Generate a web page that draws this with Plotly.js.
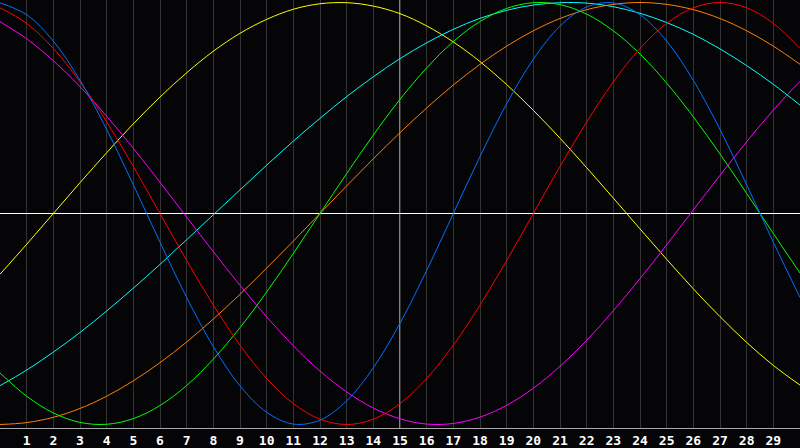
<!DOCTYPE html>
<html>
<head>
<meta charset="utf-8">
<script src="https://cdn.plot.ly/plotly-3.0.1.min.js"></script>
<style>
  html, body { margin: 0; padding: 0; background: #050508; }
  #gd { width: 800px; height: 448px; }
</style>
</head>
<body>
<div id="gd"></div>
<script>
// days shown across the chart (0 and 30 are the edges)
var days = [0, 1, 2, 3, 4, 5, 6, 7, 8, 9, 10, 11, 12, 13, 14, 15,
            16, 17, 18, 19, 20, 21, 22, 23, 24, 25, 26, 27, 28, 29, 30];
var dayTicks = [1, 2, 3, 4, 5, 6, 7, 8, 9, 10, 11, 12, 13, 14, 15,
                16, 17, 18, 19, 20, 21, 22, 23, 24, 25, 26, 27, 28, 29];
var dayLabels = dayTicks.map(String);

// curve values, -1 .. 1
var blue = [0.998, 0.942, 0.817, 0.631, 0.398, 0.136, -0.136, -0.398, -0.631, -0.817, -0.942,
            -0.998, -0.979, -0.888, -0.731, -0.520, -0.270, 0.000, 0.270, 0.520, 0.731,
            0.888, 0.979, 0.998, 0.942, 0.817, 0.631, 0.398, 0.136, -0.136, -0.398];
var red = [0.975, 0.901, 0.782, 0.624, 0.434, 0.223, 0.000, -0.223, -0.434, -0.624, -0.782,
           -0.901, -0.975, -1.000, -0.975, -0.901, -0.782, -0.624, -0.434, -0.223, 0.000,
           0.223, 0.434, 0.624, 0.782, 0.901, 0.975, 1.000, 0.975, 0.901, 0.782];
var green = [-0.756, -0.866, -0.945, -0.990, -0.999, -0.972, -0.910, -0.815, -0.690, -0.541, -0.372,
             -0.189, 0.000, 0.189, 0.372, 0.541, 0.690, 0.815, 0.910, 0.972, 0.999,
             0.990, 0.945, 0.866, 0.756, 0.618, 0.458, 0.282, 0.095, -0.095, -0.282];
var magenta = [0.909, 0.828, 0.724, 0.601, 0.461, 0.309, 0.148, -0.017, -0.181, -0.340, -0.490,
               -0.627, -0.747, -0.846, -0.922, -0.973, -0.998, -0.995, -0.965, -0.909, -0.828,
               -0.724, -0.601, -0.461, -0.309, -0.148, 0.017, 0.181, 0.340, 0.490, 0.627];
var yellow = [-0.288, -0.146, 0.000, 0.146, 0.288, 0.425, 0.552, 0.667, 0.769, 0.854, 0.920,
              0.968, 0.994, 0.999, 0.983, 0.947, 0.889, 0.813, 0.720, 0.611, 0.489,
              0.357, 0.217, 0.073, -0.073, -0.217, -0.357, -0.489, -0.611, -0.720, -0.813];
var orange = [-1.000, -0.991, -0.966, -0.924, -0.866, -0.793, -0.707, -0.609, -0.500, -0.383, -0.259,
              -0.131, 0.000, 0.131, 0.259, 0.383, 0.500, 0.609, 0.707, 0.793, 0.866,
              0.924, 0.966, 0.991, 1.000, 0.991, 0.966, 0.924, 0.866, 0.793, 0.707];
var cyan = [-0.816, -0.742, -0.657, -0.564, -0.462, -0.354, -0.241, -0.124, -0.006, 0.112, 0.229,
            0.343, 0.451, 0.554, 0.648, 0.734, 0.809, 0.873, 0.925, 0.963, 0.988,
            0.999, 0.997, 0.980, 0.949, 0.905, 0.849, 0.780, 0.701, 0.612, 0.514];

function curve(y, color) {
  return {
    x: days, y: y, type: 'scatter', mode: 'lines',
    line: {color: color, width: 1, shape: 'spline', smoothing: 1},
    hoverinfo: 'skip'
  };
}

var data = [
  curve(yellow, '#ffff00'),
  curve(cyan, '#00ffff'),
  curve(orange, '#ff8000'),
  curve(green, '#00ff00'),
  curve(magenta, '#ff00ff'),
  curve(red, '#ff0000'),
  curve(blue, '#0070ff')
];

var layout = {
  width: 800,
  height: 448,
  margin: {t: 0, b: 20, l: 0, r: 0},
  paper_bgcolor: '#050508',
  plot_bgcolor: '#050508',
  showlegend: false,
  xaxis: {
    range: [0, 30],
    tickvals: dayTicks,
    ticktext: dayLabels,
    ticks: '',
    showgrid: true,
    gridcolor: '#333333',
    gridwidth: 1,
    zeroline: false,
    showline: true,
    linecolor: '#a8a8a8',
    linewidth: 1,
    mirror: true,
    ticklabelstandoff: 0,
    tickfont: {family: 'DejaVu Sans Mono', size: 13, color: '#ffffff', weight: 'bold'}
  },
  yaxis: {
    range: [-1.0166, 1.0118],
    showticklabels: false,
    showgrid: false,
    zeroline: true,
    zerolinecolor: '#ffffff',
    zerolinewidth: 1,
    showline: true,
    linecolor: '#a8a8a8',
    linewidth: 1,
    mirror: true
  },
  shapes: [{
    type: 'line', xref: 'x', yref: 'paper',
    x0: 15, x1: 15, y0: 0, y1: 1,
    line: {color: '#ffffff', width: 1},
    layer: 'below'
  }]
};

Plotly.newPlot('gd', data, layout, {staticPlot: true});
</script>
</body>
</html>
